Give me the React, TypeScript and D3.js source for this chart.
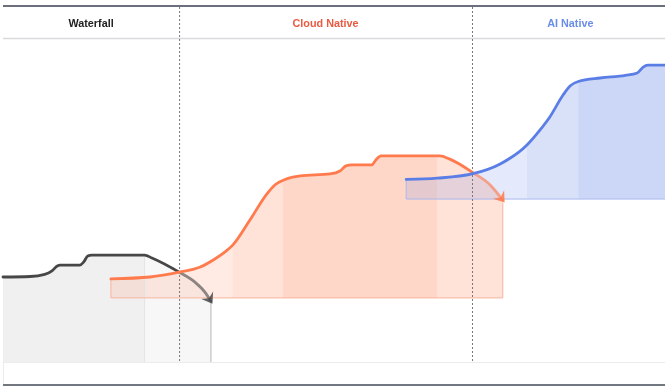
import * as d3 from "d3";

// phases shown in the header band
const phases = ["Waterfall", "Cloud Native", "AI Native"];
const phaseColors = ["#222222", "#ea5a40", "#6a8de9"];
// phase boundaries on the time axis (0..100)
const phaseBounds = [0, 26.6, 70.85, 100];

// maturity curves: [time, maturity]
const waterfall: [number, number][] = [
  [0, 26.4], [4.1, 26.55], [6.3, 27.2], [7.4, 28.3], [8.2, 29.8], [8.6, 30.1],
  [11.6, 30.1], [12.2, 31.1], [12.8, 32.9], [13.4, 33.2], [21.4, 33.2],
  [22.5, 32.3], [26.6, 27.9], [29.0, 24.8], [30.5, 21.7], [31.4, 18.9],
];
const cloudNative: [number, number][] = [
  [16.3, 25.8], [22.2, 26.4], [26.6, 27.9], [29.8, 29.5], [32.0, 32.0],
  [33.6, 34.3], [34.7, 36.3], [37.3, 44.1], [39.9, 52.3], [41.2, 55.2], [42.6, 56.7], [44.9, 57.8],
  [49.4, 58.4], [50.9, 59.3], [51.8, 60.9], [52.7, 61.2], [55.7, 61.2],
  [56.3, 62.7], [57.1, 64.0], [66.0, 64.0], [67.5, 63.0], [70.85, 59.0],
  [73.6, 55.0], [75.5, 50.3],
];
const aiNative: [number, number][] = [
  [60.9, 56.7], [65.6, 57.1], [70.85, 58.4], [75.1, 61.5], [79.15, 67.4],
  [81.1, 72.0], [82.6, 76.1], [84.6, 82.9], [85.65, 85.7], [86.9, 87.1],
  [90.2, 88.2], [94.0, 89.0], [95.8, 89.75], [96.7, 91.6], [97.4, 92.2],
  [100, 92.2],
];

// stage bands under each curve: boundaries and fill opacity
const waterfallStages = [0, 21.4, 31.4];
const waterfallOpac = [0.06, 0.032];
const cloudStages = [16.3, 34.7, 42.3, 65.6, 75.5];
const cloudOpac = [0.15, 0.22, 0.3, 0.22];
const aiStages = [60.9, 79.15, 86.9, 100];
const aiOpac = [0.16, 0.23, 0.31];

const baseWaterfall = 0;
const baseCloud = 19.9;
const baseAi = 50.6;

const W = 665;
const H = 388;

export default function App() {
  const x = d3.scaleLinear().domain([0, 100]).range([3, 665]);
  const y = d3.scaleLinear().domain([0, 100]).range([362, 40]);

  const line = d3
    .line<[number, number]>()
    .x((d) => x(d[0]))
    .y((d) => y(d[1]))
    .curve(d3.curveMonotoneX);

  const area = (base: number) =>
    d3
      .area<[number, number]>()
      .x((d) => x(d[0]))
      .y0(y(base))
      .y1((d) => y(d[1]))
      .curve(d3.curveMonotoneX);

  const series = [
    { id: "wf", data: waterfall, stages: waterfallStages, opac: waterfallOpac, base: baseWaterfall, color: "#000000", stroke: "#474747", fadeAt: phaseBounds[1], arrow: true },
    { id: "cn", data: cloudNative, stages: cloudStages, opac: cloudOpac, base: baseCloud, color: "#ff7a4c", stroke: "#ff7a4c", fadeAt: phaseBounds[2], arrow: true },
    { id: "ai", data: aiNative, stages: aiStages, opac: aiOpac, base: baseAi, color: "#5a7ee6", stroke: "#5a7ee6", fadeAt: 200, arrow: false },
  ];

  return (
    <div style={{ position: "fixed", left: 0, top: 0 }}>
      <svg width={W} height={H} style={{ display: "block", fontFamily: "'Liberation Sans', Arial, sans-serif" }}>
        <defs>
          {series.map((s) => (
            <g key={s.id}>
              <linearGradient id={`fade-${s.id}`} gradientUnits="userSpaceOnUse" x1={0} x2={W} y1={0} y2={0}>
                <stop offset={Math.min(1, x(s.fadeAt) / W)} stopColor={s.stroke} stopOpacity={1} />
                <stop offset={Math.min(1, x(s.fadeAt) / W)} stopColor={s.stroke} stopOpacity={0.62} />
              </linearGradient>
              <marker id={`arrow-${s.id}`} viewBox="-10 -10 20 20" markerWidth={20} markerHeight={20} markerUnits="userSpaceOnUse" refX={-1} refY={0} orient="auto">
                <path d="M-8,-7 L2,0 L-8,7 L-4.5,0 Z" fill={s.stroke} opacity={0.85} />
              </marker>
              {s.stages.slice(0, -1).map((st, i) => (
                <clipPath key={i} id={`clip-${s.id}-${i}`}>
                  <rect x={x(st)} y={0} width={x(s.stages[i + 1]) - x(st)} height={H} />
                </clipPath>
              ))}
            </g>
          ))}
        </defs>

        {/* stage bands */}
        {series.map((s) =>
          s.opac.map((o, i) => (
            <path
              key={`${s.id}-a${i}`}
              d={area(s.base)(s.data) || ""}
              fill={s.color}
              fillOpacity={o}
              clipPath={`url(#clip-${s.id}-${i})`}
            />
          ))
        )}

        {/* outlines of the bands */}
        <line x1={x(waterfallStages[1])} x2={x(waterfallStages[1])} y1={y(33)} y2={y(0)} stroke="#e2e2e2" strokeWidth={1} />
        <line x1={x(waterfallStages[2])} x2={x(waterfallStages[2])} y1={y(18.5)} y2={y(0)} stroke="#cccccc" strokeWidth={1.5} />
        <path
          d={`M${x(cloudStages[0])},${y(cloudNative[0][1])}V${y(baseCloud)}H${x(cloudStages[4])}V${y(49.5)}`}
          fill="none"
          stroke="#f7b39c"
          strokeWidth={1}
        />
        <path
          d={`M${x(aiStages[0])},${y(aiNative[0][1])}V${y(baseAi)}H${x(100)}`}
          fill="none"
          stroke="#a9b9ee"
          strokeWidth={1}
        />

        {/* header */}
        <line x1={3} x2={W} y1={6} y2={6} stroke="#6b6f7b" strokeWidth={2} />
        <line x1={3} x2={W} y1={38.5} y2={38.5} stroke="#d9d9de" strokeWidth={1.5} />
        {phases.map((p, i) => (
          <text
            key={p}
            x={i === 2 ? x(85.7) : (x(phaseBounds[i]) + x(phaseBounds[i + 1])) / 2}
            y={27}
            textAnchor="middle"
            fontSize={10.8}
            fontWeight="bold"
            fill={phaseColors[i]}
          >
            {p}
          </text>
        ))}

        {/* phase dividers */}
        {phaseBounds.slice(1, 3).map((b) => (
          <line key={b} x1={x(b) + 0.5} x2={x(b) + 0.5} y1={7} y2={363} stroke="#777" strokeWidth={1} strokeDasharray="2,2" />
        ))}

        {/* curves */}
        {series.map((s) => (
          <path
            key={`${s.id}-l`}
            d={line(s.data) || ""}
            fill="none"
            stroke={`url(#fade-${s.id})`}
            strokeWidth={2.8}
            strokeLinecap="round"
            strokeLinejoin="round"
            markerEnd={s.arrow ? `url(#arrow-${s.id})` : undefined}
          />
        ))}

        {/* footer */}
        <line x1={3} x2={W} y1={y(0) + 0.5} y2={y(0) + 0.5} stroke="#ececec" strokeWidth={1} />
        <line x1={3.5} x2={3.5} y1={y(0)} y2={384} stroke="#ececec" strokeWidth={1} />
        <line x1={3} x2={W} y1={385} y2={385} stroke="#72767f" strokeWidth={2} />
      </svg>
    </div>
  );
}
